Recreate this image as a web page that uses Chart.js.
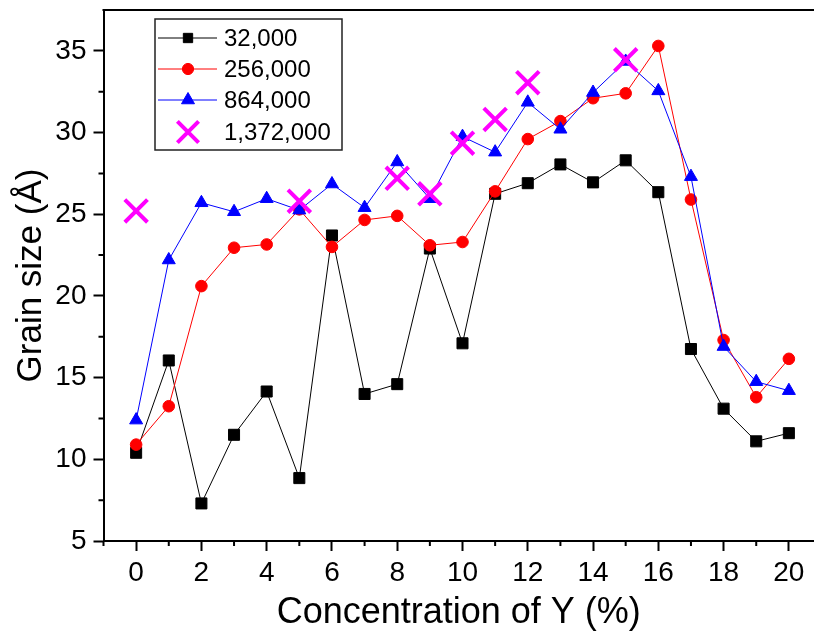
<!DOCTYPE html>
<html>
<head>
<meta charset="utf-8">
<title>Grain size vs concentration of Y</title>
<script src="https://cdn.jsdelivr.net/npm/chart.js@4.4.1/dist/chart.umd.min.js"></script>
<style>
  html, body { margin: 0; padding: 0; background: #fff; overflow: hidden; }
  canvas { display: block; }
</style>
</head>
<body>
<canvas id="grainChart" width="814" height="635"></canvas>
<script>
// concentration of Y (%) for the three full series
const concentration = [0, 1, 2, 3, 4, 5, 6, 7, 8, 9, 10, 11, 12, 13, 14, 15, 16, 17, 18, 19, 20];

// grain size (Å), one array per number of atoms
const grain32k  = [10.4, 16.05, 7.3, 11.5, 14.15, 8.85, 23.7, 14.0, 14.6, 22.9, 17.1, 26.25, 26.9, 28.05, 26.95, 28.3, 26.35, 16.75, 13.1, 11.1, 11.6];
const grain256k = [10.9, 13.25, 20.6, 22.95, 23.15, 25.3, 23.0, 24.65, 24.9, 23.1, 23.3, 26.4, 29.6, 30.7, 32.1, 32.4, 35.3, 25.9, 17.3, 13.8, 16.15];
const grain864k = [12.4, 22.2, 25.7, 25.15, 25.95, 25.25, 26.85, 25.4, 28.2, 25.95, 29.75, 28.8, 31.85, 30.2, 32.45, 34.35, 32.55, 27.3, 16.9, 14.75, 14.2];

// the largest system was only run at a few concentrations
const concentration1372k = [0, 5, 8, 9, 10, 11, 12, 15];
const grain1372k = [25.2, 25.8, 27.2, 26.25, 29.35, 30.8, 33.05, 34.45];

const seriesLabels = ['32,000', '256,000', '864,000', '1,372,000'];
const xTickLabels = ['0', '2', '4', '6', '8', '10', '12', '14', '16', '18', '20'];
const yTickLabels = ['5', '10', '15', '20', '25', '30', '35'];

const FONT = "'Liberation Sans', Arial, Helvetica, sans-serif";
Chart.defaults.font.family = FONT;
Chart.defaults.color = '#000';

function toPoints(xs, ys) {
  return xs.map((x, i) => ({ x: x, y: ys[i] }));
}

// keep the plot box where the reference has it: no extra room for overhanging labels
function noOverhang(scale) {
  scale.paddingLeft = 0;
  scale.paddingRight = 0;
  scale.paddingTop = 0;
  scale.paddingBottom = 0;
}

// minor ticks, the top frame line and the boxed legend inside the plot
const frameAndLegend = {
  id: 'frameAndLegend',
  afterDraw(chart) {
    const ctx = chart.ctx;
    const area = chart.chartArea;
    const xs = chart.scales.x;
    const ys = chart.scales.y;
    ctx.save();
    ctx.strokeStyle = '#000';
    ctx.lineWidth = 2;

    // top frame line
    ctx.beginPath();
    ctx.moveTo(area.left - 1, area.top);
    ctx.lineTo(area.right, area.top);
    ctx.stroke();

    // minor ticks
    ctx.beginPath();
    for (let v = -1; v <= 21; v += 2) {
      const px = xs.getPixelForValue(v);
      if (px > area.right) continue;
      ctx.moveTo(px, area.bottom);
      ctx.lineTo(px, area.bottom + 5);
    }
    for (let v = 7.5; v < 37; v += 5) {
      const py = ys.getPixelForValue(v);
      ctx.moveTo(area.left, py);
      ctx.lineTo(area.left - 5, py);
    }
    ctx.stroke();

    // legend box
    const box = { left: 155, top: 19, right: 342, bottom: 150 };
    ctx.lineWidth = 1.5;
    ctx.strokeStyle = '#222';
    ctx.strokeRect(box.left, box.top, box.right - box.left, box.bottom - box.top);

    const rowY = [38, 69, 100, 132];
    ctx.font = '24px ' + FONT;
    ctx.textBaseline = 'middle';
    chart.data.datasets.forEach((ds, i) => {
      const y = rowY[i];
      if (ds.showLine !== false) {
        ctx.strokeStyle = ds.borderColor;
        ctx.lineWidth = ds.borderWidth;
        ctx.beginPath();
        ctx.moveTo(158, y);
        ctx.lineTo(217, y);
        ctx.stroke();
      }
      ctx.fillStyle = ds.pointBackgroundColor;
      ctx.strokeStyle = ds.pointBorderColor;
      ctx.lineWidth = ds.pointBorderWidth;
      Chart.helpers.drawPoint(ctx, {
        pointStyle: ds.pointStyle,
        radius: ds.legendRadius,
        rotation: 0,
        borderWidth: ds.pointBorderWidth
      }, 188, y);
      ctx.fillStyle = '#000';
      ctx.fillText(ds.label, 224, y + 1);
    });
    ctx.restore();
  }
};

new Chart(document.getElementById('grainChart'), {
  type: 'line',
  data: {
    datasets: [
      {
        label: seriesLabels[0],
        data: toPoints(concentration, grain32k),
        borderColor: '#000', borderWidth: 1,
        pointStyle: 'rect', pointRadius: 7.8, legendRadius: 6.6,
        pointBackgroundColor: '#000', pointBorderColor: '#000', pointBorderWidth: 1,
        order: 4
      },
      {
        label: seriesLabels[1],
        data: toPoints(concentration, grain256k),
        borderColor: '#ff0000', borderWidth: 1,
        pointStyle: 'circle', pointRadius: 5.8, legendRadius: 5.6,
        pointBackgroundColor: '#ff0000', pointBorderColor: '#ff0000', pointBorderWidth: 1,
        order: 3
      },
      {
        label: seriesLabels[2],
        data: toPoints(concentration, grain864k),
        borderColor: '#0000ff', borderWidth: 1,
        pointStyle: 'triangle', pointRadius: 7.5, legendRadius: 7.5,
        pointBackgroundColor: '#0000ff', pointBorderColor: '#0000ff', pointBorderWidth: 1,
        order: 2
      },
      {
        label: seriesLabels[3],
        data: toPoints(concentration1372k, grain1372k),
        showLine: false,
        borderColor: '#ff00ff', borderWidth: 4,
        pointStyle: 'crossRot', pointRadius: 16, legendRadius: 15,
        pointBackgroundColor: '#ff00ff', pointBorderColor: '#ff00ff', pointBorderWidth: 4,
        order: 1
      }
    ]
  },
  options: {
    responsive: false,
    animation: false,
    events: [],
    layout: { autoPadding: false, padding: { top: 10, right: 0, left: 0, bottom: 0 } },
    plugins: {
      legend: { display: false },
      tooltip: { enabled: false }
    },
    scales: {
      x: {
        type: 'linear',
        min: -1,
        max: 20.77,
        afterFit: scale => { scale.height = 94; noOverhang(scale); },
        border: { display: true, color: '#000', width: 2 },
        grid: {
          drawOnChartArea: false,
          tickLength: 10,
          tickWidth: 2,
          tickColor: c => (c.tick && xTickLabels.includes(String(c.tick.value))) ? '#000' : 'rgba(0,0,0,0)'
        },
        ticks: {
          stepSize: 1,
          autoSkip: false,
          includeBounds: false,
          maxRotation: 0,
          padding: 5,
          font: { size: 28 },
          callback: v => xTickLabels.includes(String(v)) ? String(v) : ''
        },
        title: {
          display: true,
          text: 'Concentration of Y (%)',
          font: { size: 36, lineHeight: 1 },
          padding: { top: 0, bottom: 4 }
        }
      },
      y: {
        type: 'linear',
        min: 5,
        max: 37.5,
        afterFit: scale => { scale.width = 103.5; noOverhang(scale); },
        border: { display: true, color: '#000', width: 2 },
        grid: {
          drawOnChartArea: false,
          tickLength: 10,
          tickWidth: 2,
          tickColor: c => (c.tick && yTickLabels.includes(String(c.tick.value))) ? '#000' : 'rgba(0,0,0,0)'
        },
        ticks: {
          stepSize: 2.5,
          includeBounds: false,
          padding: 7,
          font: { size: 28 },
          callback: v => yTickLabels.includes(String(v)) ? String(v) : ''
        },
        title: {
          display: true,
          text: 'Grain size (Å)',
          font: { size: 35, lineHeight: 1 },
          padding: { top: 14, bottom: 0 }
        }
      }
    }
  },
  plugins: [frameAndLegend]
});
</script>
</body>
</html>
